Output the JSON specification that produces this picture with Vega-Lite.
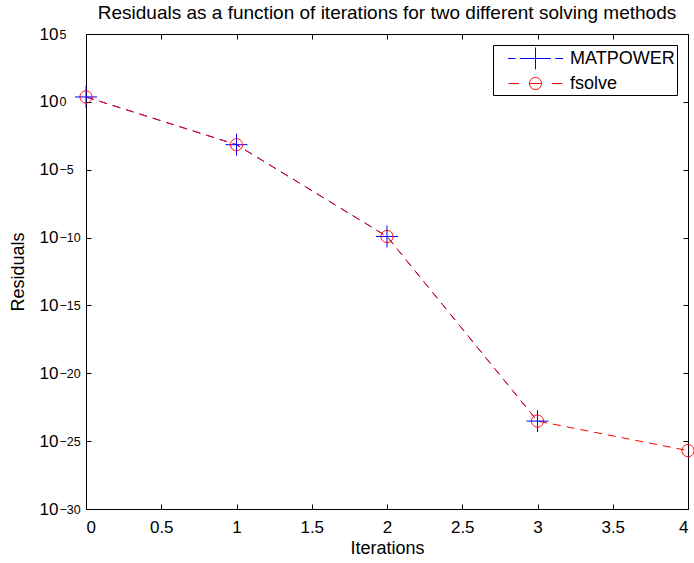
{
  "$schema": "https://vega.github.io/schema/vega-lite/v6.json",
  "width": 602,
  "height": 475,
  "autosize": {"type": "none"},
  "padding": {"left": 86, "top": 34, "right": 6, "bottom": 54},
  "background": "white",
  "title": {
    "text": "Residuals as a function of iterations for two different solving methods",
    "font": "Liberation Sans",
    "fontSize": 19,
    "fontWeight": "normal",
    "color": "black",
    "anchor": "middle",
    "offset": 2
  },
  "config": {
    "view": {"stroke": "black", "strokeWidth": 1},
    "axis": {
      "grid": false,
      "domainColor": "black",
      "tickColor": "black",
      "labelColor": "black",
      "titleColor": "black",
      "labelFont": "Liberation Sans",
      "titleFont": "Liberation Sans",
      "labelFontSize": 17,
      "titleFontSize": 18,
      "titleFontWeight": "normal",
      "tickSize": -5
    },
    "legend": {
      "labelFont": "Liberation Sans",
      "labelFontSize": 18,
      "labelColor": "black"
    }
  },
  "data": {
    "values": [
      {"iter": 0, "res": 2.3, "method": "MATPOWER"},
      {"iter": 1, "res": 0.0007, "method": "MATPOWER"},
      {"iter": 2, "res": 1.2e-10, "method": "MATPOWER"},
      {"iter": 3, "res": 3e-24, "method": "MATPOWER"},
      {"iter": 0, "res": 2.3, "method": "fsolve"},
      {"iter": 1, "res": 0.0007, "method": "fsolve"},
      {"iter": 2, "res": 1.2e-10, "method": "fsolve"},
      {"iter": 3, "res": 3e-24, "method": "fsolve"},
      {"iter": 4, "res": 2e-26, "method": "fsolve"}
    ]
  },
  "layer": [
    {
      "transform": [{"filter": "datum.method === 'MATPOWER'"}],
      "mark": {"type": "line", "strokeDash": [8, 6], "strokeWidth": 1, "color": "#0000ff"},
      "encoding": {
        "x": {
          "field": "iter", "type": "quantitative",
          "scale": {"domain": [0, 4], "nice": false},
          "axis": {"orient": "top", "labels": false, "title": null, "values": [0, 0.5, 1, 1.5, 2, 2.5, 3, 3.5, 4]}
        },
        "y": {
          "field": "res", "type": "quantitative",
          "scale": {"type": "log", "domain": [1e-30, 100000], "nice": false},
          "axis": {"orient": "right", "labels": false, "title": null, "values": [1e-30, 1e-25, 1e-20, 1e-15, 1e-10, 1e-5, 1, 100000]}
        },
        "order": {"field": "iter"}
      }
    },
    {
      "transform": [{"filter": "datum.method === 'fsolve'"}],
      "mark": {"type": "line", "strokeDash": [8, 6], "strokeWidth": 1, "color": "#ff0000"},
      "encoding": {
        "x": {
          "field": "iter", "type": "quantitative",
          "scale": {"domain": [0, 4], "nice": false},
          "axis": null
        },
        "y": {
          "field": "res", "type": "quantitative",
          "scale": {"type": "log", "domain": [1e-30, 100000], "nice": false},
          "axis": {
            "orient": "left", "title": null, "domain": false, "ticks": false, "tickSize": 0,
            "values": [1e-30, 1e-25, 1e-20, 1e-15, 1e-10, 1e-5, 1, 100000],
            "labelExpr": "['−30','−25','−20','−15','−10','−5','0','5'][round(log(datum.value)/LN10/5)+6]",
            "labelAlign": "left",
            "labelFontSize": 12.5,
            "labelDy": -8,
            "labelPadding": 27
          }
        },
        "order": {"field": "iter"}
      }
    },
    {
      "transform": [{"filter": "datum.method === 'MATPOWER'"}],
      "mark": {"type": "point", "filled": false, "size": 484, "strokeWidth": 1, "opacity": 1, "shape": "M-1,0H1M0,-1V1"},
      "encoding": {
        "x": {
          "field": "iter", "type": "quantitative",
          "scale": {"domain": [0, 4], "nice": false},
          "axis": {"orient": "bottom", "title": "Iterations", "values": [0, 0.5, 1, 1.5, 2, 2.5, 3, 3.5, 4], "format": "~g", "labelPadding": 15, "titlePadding": 4}
        },
        "y": {
          "field": "res", "type": "quantitative",
          "scale": {"type": "log", "domain": [1e-30, 100000], "nice": false},
          "axis": {
            "orient": "left", "title": "Residuals",
            "values": [1e-30, 1e-25, 1e-20, 1e-15, 1e-10, 1e-5, 1, 100000],
            "labelExpr": "'10'",
            "labelPadding": 33,
            "titlePadding": 12
          }
        },
        "color": {
          "field": "method", "type": "nominal",
          "scale": {"domain": ["MATPOWER", "fsolve"], "range": ["#0000ff", "#ff0000"]},
          "legend": {
            "title": null,
            "orient": "top-right",
            "offset": 11,
            "padding": 2,
            "fillColor": "white",
            "strokeColor": "black",
            "rowPadding": -2,
            "symbolSize": 484,
            "symbolStrokeWidth": 1,
            "symbolOffset": 29,
            "labelOffset": 23,
            "symbolType": {"expr": "datum.value === 'MATPOWER' ? 'M-2.5,0H-1.8M-1.4,0H1.4M1.8,0H2.5M0,-1V1' : 'M-2.45,0H-1.5M1.5,0H2.45M-0.55,0A0.55,0.55 0 1,1 0.55,0A0.55,0.55 0 1,1 -0.55,0M-0.55,0H0.55'"}
          }
        }
      }
    },
    {
      "transform": [{"filter": "datum.method === 'fsolve'"}],
      "mark": {"type": "point", "filled": false, "size": 484, "strokeWidth": 1, "opacity": 1, "shape": "M-0.55,0A0.55,0.55 0 1,1 0.55,0A0.55,0.55 0 1,1 -0.55,0"},
      "encoding": {
        "x": {
          "field": "iter", "type": "quantitative",
          "scale": {"domain": [0, 4], "nice": false},
          "axis": null
        },
        "y": {
          "field": "res", "type": "quantitative",
          "scale": {"type": "log", "domain": [1e-30, 100000], "nice": false},
          "axis": null
        },
        "color": {
          "field": "method", "type": "nominal",
          "scale": {"domain": ["MATPOWER", "fsolve"], "range": ["#0000ff", "#ff0000"]},
          "legend": {
            "title": null,
            "orient": "top-right",
            "offset": 11,
            "padding": 2,
            "fillColor": "white",
            "strokeColor": "black",
            "rowPadding": -2,
            "symbolSize": 484,
            "symbolStrokeWidth": 1,
            "symbolOffset": 29,
            "labelOffset": 23,
            "symbolType": {"expr": "datum.value === 'MATPOWER' ? 'M-2.5,0H-1.8M-1.4,0H1.4M1.8,0H2.5M0,-1V1' : 'M-2.45,0H-1.5M1.5,0H2.45M-0.55,0A0.55,0.55 0 1,1 0.55,0A0.55,0.55 0 1,1 -0.55,0M-0.55,0H0.55'"}
          }
        }
      }
    }
  ],
  "resolve": {"axis": {"x": "independent", "y": "independent"}}
}
